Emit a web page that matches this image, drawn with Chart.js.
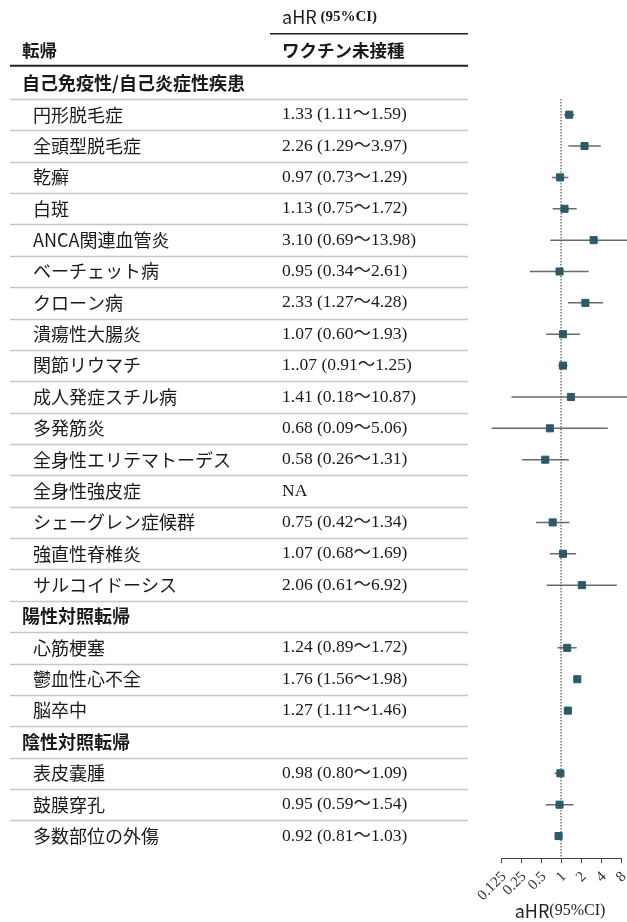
<!DOCTYPE html>
<html lang="ja">
<head>
<meta charset="UTF-8">
<title>aHR forest plot</title>
<script src="https://cdn.jsdelivr.net/npm/chart.js"></script>
<style>
  html, body { margin: 0; padding: 0; background: #fff; }
  #forest { display: block; }
</style>
</head>
<body>
<canvas id="forest" width="627" height="922"></canvas>
<script>
// rows of the table, top to bottom (group headings included)
const outcomes = [
  '自己免疫性/自己炎症性疾患',
  '円形脱毛症', '全頭型脱毛症', '乾癬', '白斑', 'ANCA関連血管炎', 'ベーチェット病',
  'クローン病', '潰瘍性大腸炎', '関節リウマチ', '成人発症スチル病', '多発筋炎',
  '全身性エリテマトーデス', '全身性強皮症', 'シェーグレン症候群', '強直性脊椎炎', 'サルコイドーシス',
  '陽性対照転帰',
  '心筋梗塞', '鬱血性心不全', '脳卒中',
  '陰性対照転帰',
  '表皮嚢腫', '鼓膜穿孔', '多数部位の外傷'
];
const groupRows = [0, 17, 21];

const hr     = [null, 1.33, 2.26, 0.97, 1.13, 3.10, 0.95, 2.33, 1.07, 1.07, 1.41, 0.68, 0.58, null, 0.75, 1.07, 2.06, null, 1.24, 1.76, 1.27, null, 0.98, 0.95, 0.92];
const ciLow  = [null, 1.11, 1.29, 0.73, 0.75, 0.69, 0.34, 1.27, 0.60, 0.91, 0.18, 0.09, 0.26, null, 0.42, 0.68, 0.61, null, 0.89, 1.56, 1.11, null, 0.80, 0.59, 0.81];
const ciHigh = [null, 1.59, 3.97, 1.29, 1.72, 13.98, 2.61, 4.28, 1.93, 1.25, 10.87, 5.06, 1.31, null, 1.34, 1.69, 6.92, null, 1.72, 1.98, 1.46, null, 1.09, 1.54, 1.03];

const hrLabels = [
  '',
  '1.33 (1.11～1.59)', '2.26 (1.29～3.97)', '0.97 (0.73～1.29)', '1.13 (0.75～1.72)',
  '3.10 (0.69～13.98)', '0.95 (0.34～2.61)', '2.33 (1.27～4.28)', '1.07 (0.60～1.93)',
  '1..07 (0.91～1.25)', '1.41 (0.18～10.87)', '0.68 (0.09～5.06)', '0.58 (0.26～1.31)',
  'NA', '0.75 (0.42～1.34)', '1.07 (0.68～1.69)', '2.06 (0.61～6.92)',
  '',
  '1.24 (0.89～1.72)', '1.76 (1.56～1.98)', '1.27 (1.11～1.46)',
  '',
  '0.98 (0.80～1.09)', '0.95 (0.59～1.54)', '0.92 (0.81～1.03)'
];

const xTicks = [0.125, 0.25, 0.5, 1, 2, 4, 8];

const SANS = '"Noto Sans CJK JP", "Noto Sans", sans-serif';
const SERIF = '"Liberation Serif", "Noto Sans CJK JP", serif';

// point estimates
const pointData = [];
// CI segments, separated by null points so the line breaks between rows
const ciData = [];
hr.forEach((v, i) => {
  if (v === null) return;
  pointData.push({ x: v, y: i });
  ciData.push({ x: ciLow[i], y: i }, { x: ciHigh[i], y: i }, { x: null, y: null });
});

const yMin = 0.5, yMax = 24.7;

// draws the left-hand table (headings, outcome names, aHR text, rules) and the axis title
const tablePlugin = {
  id: 'outcomeTable',
  afterDraw(chart) {
    const { ctx, chartArea } = chart;
    const ys = chart.scales.y;
    const rowY = i => ys.getPixelForValue(i);
    const y0 = rowY(0);
    const half = (rowY(1) - y0) / 2;
    const left = 10, right = 468, valueX = 282;

    ctx.save();
    ctx.textBaseline = 'middle';
    ctx.fillStyle = '#1a1a1a';

    // column header
    ctx.font = '18px ' + SANS;
    ctx.fillText('aHR', valueX, y0 - 66);
    const w = ctx.measureText('aHR').width;
    ctx.font = 'bold 15px ' + SERIF;
    ctx.fillText(' (95%CI)', valueX + w, y0 - 66);

    ctx.strokeStyle = '#222';
    ctx.lineWidth = 1.5;
    ctx.beginPath();
    ctx.moveTo(270, y0 - 49.5);
    ctx.lineTo(right, y0 - 49.5);
    ctx.stroke();

    ctx.font = 'bold 17.5px ' + SANS;
    ctx.fillText('転帰', 22, y0 - 33);
    ctx.fillText('ワクチン未接種', valueX, y0 - 33);

    ctx.lineWidth = 2;
    ctx.beginPath();
    ctx.moveTo(left, y0 - 17.5);
    ctx.lineTo(right, y0 - 17.5);
    ctx.stroke();

    // row rules
    ctx.strokeStyle = '#c6c6c6';
    ctx.lineWidth = 1.5;
    for (let i = 0; i < outcomes.length - 1; i++) {
      const yy = Math.round(rowY(i) + half) + 0.5;
      ctx.beginPath();
      ctx.moveTo(left, yy);
      ctx.lineTo(right, yy);
      ctx.stroke();
    }

    // names and estimates
    outcomes.forEach((name, i) => {
      const yy = rowY(i);
      const isGroup = groupRows.includes(i);
      ctx.font = (isGroup ? 'bold ' : '') + '18px ' + SANS;
      ctx.fillText(name, isGroup ? 22 : 33, yy);
      if (hrLabels[i]) {
        ctx.font = '17.5px ' + SERIF;
        ctx.fillText(hrLabels[i], valueX, yy);
      }
    });

    // x axis title
    const cx = (chartArea.left + chartArea.right) / 2 - 1;
    const ty = 911;
    ctx.font = '18px ' + SANS;
    const wa = ctx.measureText('aHR').width;
    ctx.font = '16px ' + SERIF;
    const wb = ctx.measureText('(95%CI)').width;
    const start = cx - (wa + wb) / 2;
    ctx.fillStyle = '#222';
    ctx.font = '18px ' + SANS;
    ctx.fillText('aHR', start, ty);
    ctx.font = '16px ' + SERIF;
    ctx.fillText('(95%CI)', start + wa, ty);

    ctx.restore();
  }
};

new Chart(document.getElementById('forest'), {
  type: 'scatter',
  data: {
    datasets: [
      {
        label: 'aHR',
        data: pointData,
        order: 0,
        pointStyle: 'rect',
        pointRadius: 5,
        pointBorderWidth: 1,
        backgroundColor: '#2c5a67',
        borderColor: '#2c5a67'
      },
      {
        label: 'null line',
        data: [{ x: 1, y: yMin }, { x: 1, y: yMax }],
        order: 1,
        showLine: true,
        pointRadius: 0,
        borderColor: '#555',
        borderWidth: 1.2,
        borderDash: [1.5, 1.5]
      },
      {
        label: '95%CI',
        data: ciData,
        order: 2,
        showLine: true,
        spanGaps: false,
        clip: false,
        pointRadius: 0,
        borderColor: '#6a6a6a',
        borderWidth: 1.5
      }
    ]
  },
  options: {
    responsive: false,
    animation: false,
    layout: { padding: { left: 501, right: 6, top: 99, bottom: 0 } },
    plugins: { legend: { display: false }, tooltip: { enabled: false } },
    scales: {
      x: {
        type: 'logarithmic',
        min: 0.125,
        max: 8,
        afterBuildTicks: s => { s.ticks = xTicks.map(v => ({ value: v })); },
        afterFit: s => {
          // fixed axis band; rotated labels should not push the plot edges in
          s.height = 64;
          s.paddingLeft = 0;
          s.paddingRight = 0;
        },
        ticks: {
          autoSkip: false,
          minRotation: 45,
          maxRotation: 45,
          padding: 5,
          labelOffset: 3,
          color: '#333',
          font: { family: SERIF, size: 15 },
          callback: v => String(v)
        },
        grid: { drawOnChartArea: false, drawTicks: true, tickLength: 5, color: '#444' },
        border: { display: true, color: '#444', width: 1 }
      },
      y: {
        type: 'linear',
        reverse: true,
        min: yMin,
        max: yMax,
        display: false
      }
    }
  },
  plugins: [tablePlugin]
});
</script>
</body>
</html>
